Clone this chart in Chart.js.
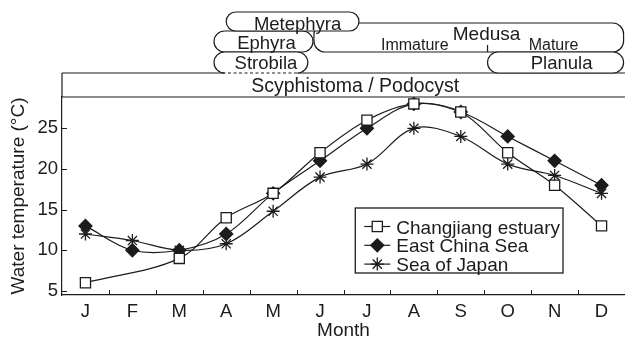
<!DOCTYPE html>
<html>
<head>
<meta charset="utf-8">
<script src="https://cdn.jsdelivr.net/npm/chart.js@4/dist/chart.umd.min.js"></script>
<style>
  html, body { margin: 0; padding: 0; background: #fff; overflow: hidden; }
  canvas { display: block; }
</style>
</head>
<body>
<canvas id="chart" width="625" height="342"></canvas>
<script>
const months = ['J', 'F', 'M', 'A', 'M', 'J', 'J', 'A', 'S', 'O', 'N', 'D'];
const yTicks = [5, 10, 15, 20, 25];

// monthly water temperature (°C); the estuary has no February reading
const changjiang = [6, null, 9, 14, 17, 22, 26, 28, 27, 22, 18, 13];
const eastChinaSea = [13, 10, 10, 12, 17, 21, 25, 28, 27, 24, 21, 18];
const seaOfJapan = [12, 11.2, 10, 10.8, 14.8, 19, 20.6, 25, 24, 20.6, 19.2, 17];

// life stages, in month units (0 = January)
const stageNames = ['Metephyra', 'Ephyra', 'Strobila', 'Medusa', 'Planula'];
const stageStart = [3.0, 2.74, 2.74, 4.87, 8.57];
const stageEnd = [5.83, 4.85, 4.74, 11.47, 11.47];
const medusaMature = 8.57;

const INK = '#1c1c1c';
const FAMILY = '"Liberation Sans", Arial, Helvetica, sans-serif';
const font = size => `${size}px ${FAMILY}`;

// tick marks point inward, left axis runs up through the polyp band
const axisMarks = {
  id: 'axisMarks',
  afterDraw(chart) {
    const { ctx, chartArea: a, scales: { x, y } } = chart;
    ctx.save();
    ctx.strokeStyle = INK;
    ctx.lineWidth = 1;
    ctx.beginPath();
    for (let i = 1; i < months.length; i++) {
      const xp = Math.round(x.getPixelForValue(i - 0.5)) + 0.5;
      ctx.moveTo(xp, a.bottom);
      ctx.lineTo(xp, a.bottom - 5);
    }
    yTicks.forEach(v => {
      const yp = Math.round(y.getPixelForValue(v)) + 0.5;
      ctx.moveTo(a.left, yp);
      ctx.lineTo(a.left + 5, yp);
    });
    ctx.stroke();
    ctx.lineWidth = 1.2;
    ctx.beginPath();
    ctx.moveTo(a.left, a.top);
    ctx.lineTo(a.left, a.top - 24);
    ctx.stroke();
    ctx.restore();
  }
};

const stages = {
  id: 'stages',
  afterDraw(chart) {
    const { ctx, chartArea: a, scales: { x } } = chart;
    const px = v => x.getPixelForValue(v);
    const T = a.top;
    const bandTop = T - 24;
    ctx.save();
    ctx.strokeStyle = INK;
    ctx.lineWidth = 1.2;

    ctx.beginPath();
    ctx.moveTo(a.left, bandTop);
    ctx.lineTo(a.right, bandTop);
    ctx.moveTo(a.left, T);
    ctx.lineTo(a.right, T);
    ctx.stroke();

    const rows = {
      Metephyra: [T - 85, T - 66],
      Ephyra: [T - 66, T - 45],
      Medusa: [T - 74, T - 45],
      Strobila: [T - 45, bandTop],
      Planula: [T - 45, bandTop]
    };
    const box = {};
    ['Medusa', 'Ephyra', 'Metephyra', 'Strobila', 'Planula'].forEach(name => {
      const i = stageNames.indexOf(name);
      const [y1, y2] = rows[name];
      const x1 = px(stageStart[i]);
      const x2 = px(stageEnd[i]);
      const r = Math.min(11, (y2 - y1) / 2);
      box[name] = { x1, x2, y1, y2 };
      ctx.fillStyle = '#fff';
      ctx.beginPath();
      ctx.roundRect(x1, y1, x2 - x1, y2 - y1, r);
      ctx.fill();
      ctx.stroke();
      if (name === 'Strobila') {
        // dashed bottom where the strobila buds off the polyp
        ctx.save();
        ctx.strokeStyle = '#fff';
        ctx.lineWidth = 3;
        ctx.beginPath();
        ctx.moveTo(x1 + r, y2);
        ctx.lineTo(x2 - r, y2);
        ctx.stroke();
        ctx.restore();
        ctx.save();
        ctx.setLineDash([3, 2.5]);
        ctx.beginPath();
        ctx.moveTo(x1 + r - 2, y2);
        ctx.lineTo(x2 - r + 2, y2);
        ctx.stroke();
        ctx.restore();
      }
    });

    // immature / mature divider
    const xd = px(medusaMature);
    ctx.beginPath();
    ctx.moveTo(xd, box.Medusa.y2 - 7);
    ctx.lineTo(xd, box.Medusa.y2);
    ctx.stroke();

    ctx.fillStyle = INK;
    ctx.textAlign = 'center';
    ctx.textBaseline = 'alphabetic';
    ctx.font = font(18.5);
    ctx.fillText('Metephyra', (box.Metephyra.x1 + box.Metephyra.x2) / 2 + 5, T - 67.5);
    ctx.fillText('Ephyra', (box.Ephyra.x1 + box.Ephyra.x2) / 2 + 3, T - 48.5);
    ctx.fillText('Strobila', (box.Strobila.x1 + box.Strobila.x2) / 2 + 5, T - 28.5);
    ctx.fillText('Planula', (box.Planula.x1 + box.Planula.x2) / 2 + 6, T - 28.5);
    ctx.font = font(19);
    ctx.fillText('Medusa', xd - 1, T - 57.5);
    ctx.font = font(16);
    ctx.fillText('Immature', (box.Medusa.x1 + xd) / 2 + 14, T - 47);
    ctx.fillText('Mature', (xd + box.Medusa.x2) / 2 - 2, T - 47);
    ctx.font = font(19.5);
    ctx.fillText('Scyphistoma / Podocyst', px(5.75), T - 5.5);
    ctx.restore();
  }
};

// boxed legend inside the plot, lower right
const boxLegend = {
  id: 'boxLegend',
  afterDraw(chart) {
    const { ctx, chartArea: a } = chart;
    const sets = chart.data.datasets;
    ctx.save();
    ctx.font = font(19);
    const textW = Math.max(...sets.map(d => ctx.measureText(d.label).width));
    const right = a.right - 62;
    const bottom = a.bottom - 22;
    const rowH = 18.8;
    const height = 65;
    const left = right - (42 + textW + 2);
    const top = bottom - height;
    ctx.fillStyle = '#fff';
    ctx.strokeStyle = INK;
    ctx.lineWidth = 1.3;
    ctx.fillRect(left, top, right - left, height);
    ctx.strokeRect(left, top, right - left, height);
    sets.forEach((d, i) => {
      const cy = top + 18.5 + i * rowH;
      ctx.strokeStyle = INK;
      ctx.lineWidth = 1.2;
      ctx.beginPath();
      ctx.moveTo(left + 9, cy);
      ctx.lineTo(left + 35, cy);
      ctx.stroke();
      ctx.fillStyle = d.pointBackgroundColor;
      ctx.lineWidth = d.pointBorderWidth;
      Chart.helpers.drawPoint(ctx, {
        pointStyle: d.pointStyle,
        radius: d.pointRadius,
        rotation: 0,
        borderWidth: d.pointBorderWidth
      }, left + 22, cy);
      ctx.fillStyle = INK;
      ctx.textAlign = 'left';
      ctx.textBaseline = 'alphabetic';
      ctx.fillText(d.label, left + 41, cy + 7);
    });
    ctx.restore();
  }
};

const line = {
  borderColor: INK,
  borderWidth: 1.2,
  pointBorderColor: INK,
  pointBorderWidth: 1.3,
  tension: 0.35,
  fill: false
};

new Chart(document.getElementById('chart'), {
  type: 'line',
  data: {
    labels: months,
    datasets: [
      { ...line, label: 'Changjiang estuary', data: changjiang, spanGaps: true,
        pointStyle: 'rect', pointRadius: 7.2, pointBackgroundColor: '#fff' },
      { ...line, label: 'East China Sea', data: eastChinaSea,
        pointStyle: 'rectRot', pointRadius: 6.5, pointBackgroundColor: INK },
      { ...line, label: 'Sea of Japan', data: seaOfJapan,
        pointStyle: 'star', pointRadius: 6.5, pointBackgroundColor: INK }
    ]
  },
  options: {
    responsive: false,
    animation: false,
    layout: { autoPadding: false, padding: { top: 97, right: 0, bottom: 0, left: 0 } },
    plugins: { legend: { display: false }, tooltip: { enabled: false } },
    scales: {
      x: {
        offset: true,
        grid: { display: false, drawTicks: false },
        border: { display: true, color: INK, width: 1.2 },
        ticks: { color: INK, font: { family: FAMILY, size: 18.5 }, padding: 6, maxRotation: 0, autoSkip: false },
        title: { display: true, text: 'Month', color: INK, font: { family: FAMILY, size: 19 }, padding: { top: 0, bottom: 0 } },
        afterFit(s) { s.height = 47; s.paddingLeft = 0; s.paddingRight = 0; }
      },
      y: {
        min: 4.5,
        max: 28.85,
        grid: { display: false, drawTicks: false },
        border: { display: true, color: INK, width: 1.2 },
        ticks: { color: INK, font: { family: FAMILY, size: 18.5 }, padding: 4 },
        afterBuildTicks(s) { s.ticks = yTicks.map(v => ({ value: v })); },
        title: { display: true, text: 'Water temperature (°C)', color: INK, font: { family: FAMILY, size: 19 }, padding: { top: 7, bottom: 0 } },
        afterFit(s) { s.width = 62; }
      }
    }
  },
  plugins: [axisMarks, stages, boxLegend]
});
</script>
</body>
</html>
